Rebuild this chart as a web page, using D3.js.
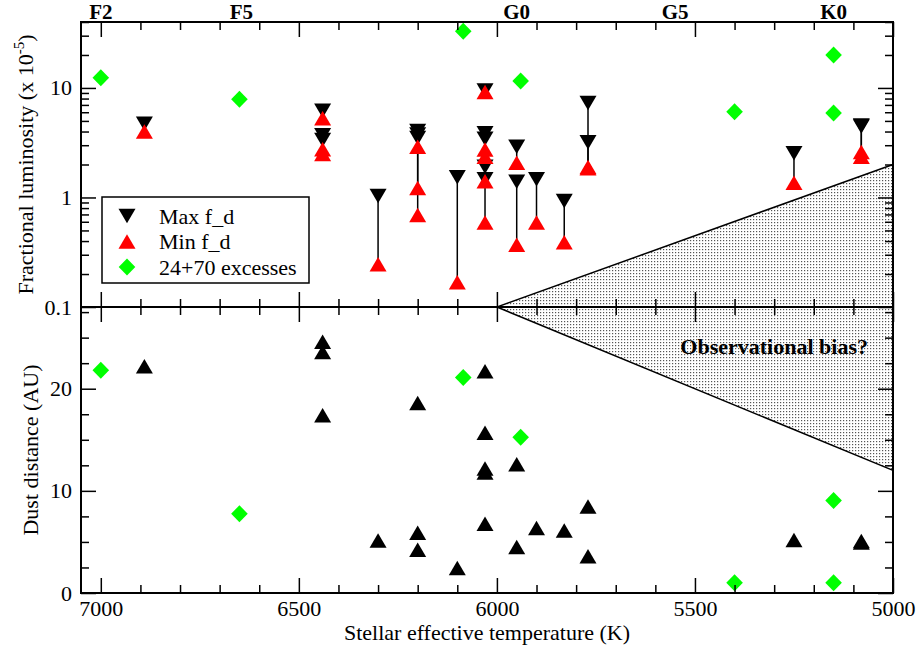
<!DOCTYPE html>
<html>
<head>
<meta charset="utf-8">
<script src="https://cdn.jsdelivr.net/npm/d3@7"></script>
<style>
  body { margin: 0; background: #fff; }
</style>
</head>
<body>
<div id="chart"></div>
<script>
// spectral type labels along the top
const spectralTypes = ['F2', 'F5', 'G0', 'G5', 'K0'];
const spectralTemps = [7000, 6645, 5950, 5550, 5150];

// stars with Max / Min f_d (one entry per star)
const pairTemps = [6890, 6440, 6440, 6440, 6300, 6200, 6200, 6200, 6100,
  6030, 6030, 6030, 6030, 6030, 5950, 5950, 5900, 5830, 5770, 5770, 5250, 5080, 5080];
const fdMax = [4.7, 6.2, 3.7, 3.35, 1.03, 4.05, 3.75, 3.5, 1.53,
  9.5, 3.85, 3.44, 1.91, 1.47, 2.9, 1.39, 1.47, 0.93, 7.3, 3.2, 2.53, 4.55, 4.45];
const fdMin = [4.0, 5.3, 2.75, 2.5, 0.246, 2.9, 1.22, 0.69, 0.168,
  9.2, 2.74, 2.35, 0.59, 1.41, 2.07, 0.37, 0.59, 0.39, 1.9, 1.85, 1.36, 2.6, 2.35];
const dustDist = [22.2, 24.6, 23.6, 17.4, 5.15, 18.6, 5.9, 4.24, 2.44,
  21.7, 15.7, 12.2, 11.8, 6.78, 12.6, 4.5, 6.36, 6.13, 8.47, 3.59, 5.2, 5.1, 4.95];

// 24+70 excess stars
const excessTemps = [7000, 6650, 6085, 5940, 5400, 5150, 5150];
const excessFd = [12.4, 7.9, 33, 11.6, 6.07, 20, 5.9];
const excessDist = [21.8, 7.76, 21.1, 15.25, 1.0, 9.06, 1.0];

// shaded "observational bias" wedge
const biasTemps = [6000, 5000];
const biasFdTop = 2;
const biasDistBottom = 12;

const xTicksMajor = [7000, 6500, 6000, 5500, 5000];
const legendLabels = ['Max f_d', 'Min f_d', '24+70 excesses'];

const width = 918, height = 650;
const pLeft = 81, pRight = 893, pTop = 22, pMid = 307, pBottom = 593;
const serif = '"Liberation Serif", "Times New Roman", Times, serif';

const svg = d3.select('#chart').append('svg')
  .attr('width', width).attr('height', height)
  .attr('font-family', serif);

const x = d3.scaleLinear().domain([7050, 5000]).range([pLeft, pRight]);
const yTop = d3.scaleLog().domain([0.1, 40]).range([pMid, pTop]);
const yBot = d3.scaleLinear().domain([0, 28]).range([pBottom, pMid]);

// dotted fill pattern
const pat = svg.append('defs').append('pattern')
  .attr('id', 'dots').attr('width', 3).attr('height', 3)
  .attr('patternUnits', 'userSpaceOnUse');
pat.append('rect').attr('width', 3).attr('height', 3).attr('fill', '#fff');
pat.append('rect').attr('width', 1.2).attr('height', 1.2).attr('fill', '#555');

const wedge = [
  [x(biasTemps[0]), yTop(0.1)],
  [x(biasTemps[1]), yTop(biasFdTop)],
  [x(biasTemps[1]), yBot(biasDistBottom)]
];
svg.append('path')
  .attr('d', 'M' + wedge.map(p => p.join(',')).join('L') + 'Z')
  .attr('fill', 'url(#dots)');
svg.append('path')
  .attr('d', `M${wedge[1]}L${wedge[0]}L${wedge[2]}`)
  .attr('fill', 'none').attr('stroke', '#000').attr('stroke-width', 1.5);

// marker shapes
const triW = 17, triH = 14.5;
const triDown = `M${-triW / 2},${-triH / 2}L${triW / 2},${-triH / 2}L0,${triH / 2}Z`;
const triUp = `M0,${-triH / 2}L${triW / 2},${triH / 2}L${-triW / 2},${triH / 2}Z`;
const diamond = 'M0,-8.5L8.3,0L0,8.5L-8.3,0Z';

const pairs = pairTemps.map((t, i) => ({ t, max: fdMax[i], min: fdMin[i], dist: dustDist[i] }));
const excess = excessTemps.map((t, i) => ({ t, fd: excessFd[i], dist: excessDist[i] }));

// top panel
svg.append('g').selectAll('line').data(pairs).enter().append('line')
  .attr('x1', d => x(d.t)).attr('x2', d => x(d.t))
  .attr('y1', d => yTop(d.max)).attr('y2', d => yTop(d.min))
  .attr('stroke', '#000').attr('stroke-width', 1.5);
svg.append('g').selectAll('path').data(pairs).enter().append('path')
  .attr('d', triDown)
  .attr('transform', d => `translate(${x(d.t)},${yTop(d.max)})`)
  .attr('fill', '#000');
svg.append('g').selectAll('path').data(pairs).enter().append('path')
  .attr('d', triUp)
  .attr('transform', d => `translate(${x(d.t)},${yTop(d.min)})`)
  .attr('fill', '#ff0000');
svg.append('g').selectAll('path').data(excess).enter().append('path')
  .attr('d', diamond)
  .attr('transform', d => `translate(${x(d.t)},${yTop(d.fd)})`)
  .attr('fill', '#00ff00');

// bottom panel
svg.append('g').selectAll('path').data(pairs).enter().append('path')
  .attr('d', triUp)
  .attr('transform', d => `translate(${x(d.t)},${yBot(d.dist)})`)
  .attr('fill', '#000');
svg.append('g').selectAll('path').data(excess).enter().append('path')
  .attr('d', diamond)
  .attr('transform', d => `translate(${x(d.t)},${yBot(d.dist)})`)
  .attr('fill', '#00ff00');

// axes
const minorX = d3.range(7000, 4999, -100).filter(v => !xTicksMajor.includes(v));
const logTicks = yTop.ticks();
const logMajor = [0.1, 1, 10];
const logMinor = logTicks.filter(v => !logMajor.includes(v));

function styleAxis(g) {
  g.attr('font-family', serif).attr('font-size', 22);
  g.select('.domain').remove();
  g.selectAll('.tick line').attr('stroke', '#000').attr('stroke-width', 1.5);
  g.selectAll('.tick text').attr('fill', '#000');
}
function xAxes(y, dir, withLabels) {
  const gen = dir === 'down' ? d3.axisTop : d3.axisBottom;
  svg.append('g').attr('transform', `translate(0,${y})`)
    .call(gen(x).tickValues(xTicksMajor).tickSize(-15)
      .tickPadding(7).tickFormat(withLabels ? d3.format('d') : ''))
    .call(styleAxis);
  svg.append('g').attr('transform', `translate(0,${y})`)
    .call(gen(x).tickValues(minorX).tickSize(-8).tickFormat(''))
    .call(styleAxis);
}
xAxes(pTop, 'down', false);
xAxes(pMid, 'up', false);
xAxes(pMid, 'down', false);
xAxes(pBottom, 'up', true);

function yAxes(scale, major, minor, fmt) {
  svg.append('g').attr('transform', `translate(${pLeft},0)`)
    .call(d3.axisLeft(scale).tickValues(major).tickSize(-15).tickPadding(9).tickFormat(fmt))
    .call(styleAxis);
  svg.append('g').attr('transform', `translate(${pLeft},0)`)
    .call(d3.axisLeft(scale).tickValues(minor).tickSize(-8).tickFormat(''))
    .call(styleAxis);
  svg.append('g').attr('transform', `translate(${pRight},0)`)
    .call(d3.axisRight(scale).tickValues(major).tickSize(-15).tickFormat(''))
    .call(styleAxis);
  svg.append('g').attr('transform', `translate(${pRight},0)`)
    .call(d3.axisRight(scale).tickValues(minor).tickSize(-8).tickFormat(''))
    .call(styleAxis);
}
yAxes(yTop, logMajor, logMinor, d => (d < 1 ? '0.1' : d3.format('d')(d)));
yAxes(yBot, [0, 10, 20], [2.5, 5, 7.5, 12.5, 15, 17.5, 22.5, 25, 27.5], d3.format('d'));

// frames
svg.append('rect').attr('x', pLeft).attr('y', pTop)
  .attr('width', pRight - pLeft).attr('height', pBottom - pTop)
  .attr('fill', 'none').attr('stroke', '#000').attr('stroke-width', 2);
svg.append('line').attr('x1', pLeft).attr('x2', pRight).attr('y1', pMid).attr('y2', pMid)
  .attr('stroke', '#000').attr('stroke-width', 2);

// spectral types
svg.append('g').selectAll('text').data(spectralTypes).enter().append('text')
  .attr('x', (d, i) => x(spectralTemps[i])).attr('y', 19)
  .attr('text-anchor', 'middle').attr('font-size', 21).attr('font-weight', 'bold')
  .text(d => d);

// titles
svg.append('text').attr('x', (pLeft + pRight) / 2).attr('y', 640)
  .attr('text-anchor', 'middle').attr('font-size', 22)
  .text('Stellar effective temperature (K)');

const yt = svg.append('text')
  .attr('transform', `translate(33,${(pTop + pMid) / 2}) rotate(-90)`)
  .attr('text-anchor', 'middle').attr('font-size', 22);
yt.append('tspan').text('Fractional luminosity (x 10');
yt.append('tspan').attr('dy', -9).attr('font-size', 15).text('-5');
yt.append('tspan').attr('dy', 9).text(')');

svg.append('text')
  .attr('transform', `translate(38,${(pMid + pBottom) / 2}) rotate(-90)`)
  .attr('text-anchor', 'middle').attr('font-size', 22)
  .text('Dust distance (AU)');

svg.append('text').attr('x', 868).attr('y', 354)
  .attr('text-anchor', 'end').attr('font-size', 22).attr('font-weight', 'bold')
  .text('Observational bias?');

// legend
const lg = svg.append('g').attr('transform', 'translate(102,197)');
lg.append('rect').attr('width', 207).attr('height', 86)
  .attr('fill', '#fff').attr('stroke', '#000').attr('stroke-width', 1.5);
const legendShapes = [[triDown, '#000'], [triUp, '#ff0000'], [diamond, '#00ff00']];
legendLabels.forEach((label, i) => {
  const yy = 19 + i * 25.5;
  lg.append('path').attr('d', legendShapes[i][0]).attr('fill', legendShapes[i][1])
    .attr('transform', `translate(25,${yy})`);
  lg.append('text').attr('x', 57).attr('y', yy).attr('dy', '0.35em')
    .attr('font-size', 22).text(label);
});

svg.selectAll('text').attr('font-family', serif);
</script>
</body>
</html>
